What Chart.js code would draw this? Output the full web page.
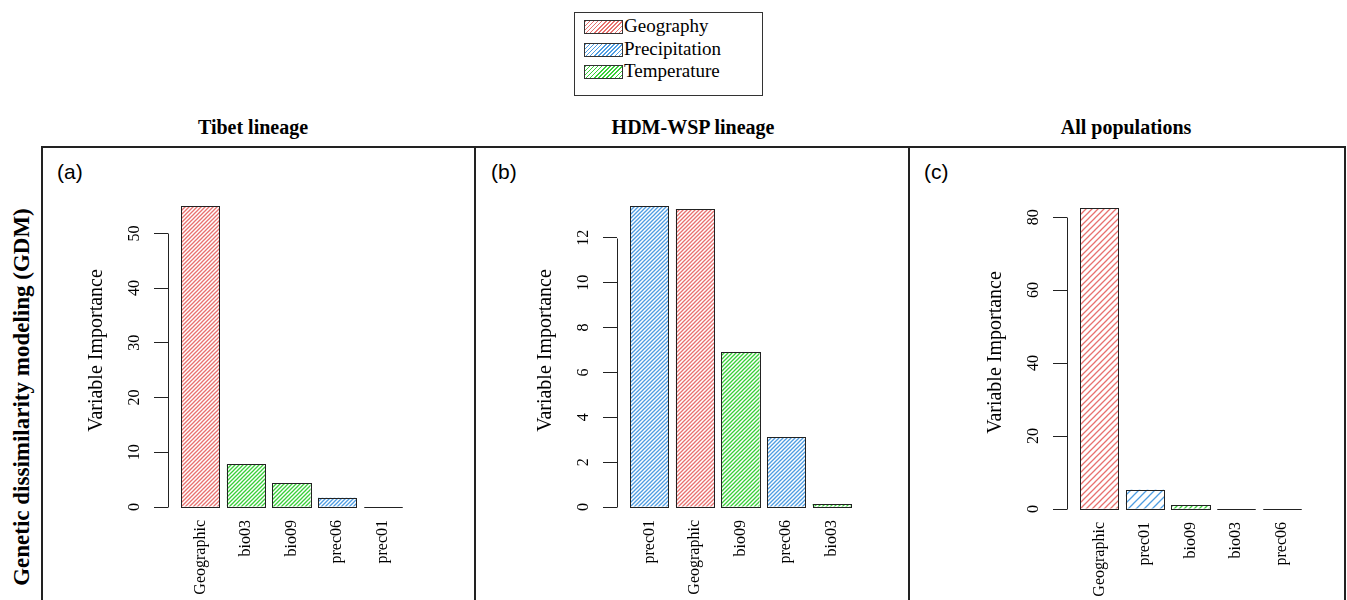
<!DOCTYPE html>
<html>
<head>
<meta charset="utf-8">
<script src="https://cdn.jsdelivr.net/npm/chart.js@4.4.1/dist/chart.umd.min.js"></script>
<style>
  html, body { margin: 0; padding: 0; background: #fff; }
  body { width: 1347px; height: 600px; position: relative; overflow: hidden; font-family: "Liberation Serif", serif; color: #000; }
  .abs { position: absolute; }
  canvas { position: absolute; }
  .title { position: absolute; font-weight: bold; font-size: 20px; transform: translate(-50%, -50%); white-space: nowrap; }
  .tag { position: absolute; font-family: "Liberation Sans", Arial, sans-serif; font-size: 21px; }
  .legend { position: absolute; left: 574px; top: 12px; width: 187px; height: 82px; border: 1px solid #333; }
  .lrow { position: absolute; left: 9px; height: 20px; font-size: 19px; line-height: 20px; white-space: nowrap; }
  .sw { position: absolute; left: 0; top: 3px; width: 37px; height: 12px; border: 1px solid #333; }
  .ltext { position: absolute; left: 40px; top: -1px; }
</style>
</head>
<body>
<div id="root"></div>
<script>
// ---------- data ----------
const groupNames = ['Geography', 'Precipitation', 'Temperature'];
const panelTitles = ['Tibet lineage', 'HDM-WSP lineage', 'All populations'];
const panelTags = ['(a)', '(b)', '(c)'];
const sideLabel = 'Genetic dissimilarity modeling (GDM)';
const yTitle = 'Variable Importance';

const tibetCats = ['Geographic', 'bio03', 'bio09', 'prec06', 'prec01'];
const tibetVals = [55.0, 7.8, 4.3, 1.7, 0];
const tibetGroups = ['Geography', 'Temperature', 'Temperature', 'Precipitation', 'Precipitation'];

const hdmCats = ['prec01', 'Geographic', 'bio09', 'prec06', 'bio03'];
const hdmVals = [13.41, 13.28, 6.91, 3.11, 0.13];
const hdmGroups = ['Precipitation', 'Geography', 'Temperature', 'Precipitation', 'Temperature'];

const allCats = ['Geographic', 'prec01', 'bio09', 'bio03', 'prec06'];
const allVals = [82.5, 5.3, 1.0, 0, 0];
const allGroups = ['Geography', 'Precipitation', 'Temperature', 'Temperature', 'Precipitation'];

// ---------- styles ----------
const groupColors = { Geography: '#E8716F', Precipitation: '#4E9DE2', Temperature: '#39CF39' };
const FONT = 'Liberation Serif';
const root = document.getElementById('root');

function el(cls, css, text) {
  const d = document.createElement('div');
  d.className = cls;
  Object.assign(d.style, css);
  if (text !== undefined) d.textContent = text;
  root.appendChild(d);
  return d;
}

// frames
el('abs', { left: '41px', top: '146px', width: '1301px', height: '470px', border: '2px solid #222' });
el('abs', { left: '474px', top: '147px', width: '2px', height: '460px', background: '#222' });
el('abs', { left: '908px', top: '147px', width: '2px', height: '460px', background: '#222' });

// legend
const leg = el('legend', {});
groupNames.forEach((g, i) => {
  const row = document.createElement('div');
  row.className = 'lrow';
  row.style.top = (4 + i * 22.5) + 'px';
  const sw = document.createElement('div');
  sw.className = 'sw';
  sw.style.background = `repeating-linear-gradient(135deg, ${groupColors[g]} 0px, ${groupColors[g]} 1.1px, #fff 1.1px, #fff 2.9px)`;
  const t = document.createElement('div');
  t.className = 'ltext';
  t.textContent = g;
  row.appendChild(sw); row.appendChild(t);
  leg.appendChild(row);
});

// titles, tags, side label
[253, 693, 1126].forEach((x, i) => el('title', { left: x + 'px', top: '127px' }, panelTitles[i]));
[[57, 160], [491, 160], [924, 160]].forEach((p, i) => el('tag', { left: p[0] + 'px', top: p[1] + 'px' }, panelTags[i]));
el('title', { left: '22px', top: '397px', fontSize: '23px', transform: 'translate(-50%,-50%) rotate(-90deg)' }, sideLabel);

function hatch(color, s) {
  const c = document.createElement('canvas');
  c.width = s; c.height = s;
  const x = c.getContext('2d');
  x.fillStyle = '#fff'; x.fillRect(0, 0, s, s);
  x.strokeStyle = color; x.lineWidth = 1.3;
  x.beginPath();
  x.moveTo(-1, s + 1); x.lineTo(s + 1, -1);
  x.moveTo(-1, 1); x.lineTo(1, -1);
  x.moveTo(s - 1, s + 1); x.lineTo(s + 1, s - 1);
  x.stroke();
  return x.createPattern(c, 'repeat');
}

const outlinePlugin = {
  id: 'outline',
  afterDatasetsDraw(chart) {
    const ctx = chart.ctx;
    const meta = chart.getDatasetMeta(0);
    ctx.save();
    ctx.strokeStyle = '#222'; ctx.lineWidth = 1;
    meta.data.forEach(b => {
      const p = b.getProps(['x', 'y', 'base', 'width'], true);
      const l = Math.round(p.x - p.width / 2) + 0.5, r = Math.round(p.x + p.width / 2) + 0.5;
      const t = Math.round(p.y) + 0.5, bt = Math.round(p.base) + 0.5;
      ctx.strokeRect(l, t, r - l, bt - t);
    });
    ctx.restore();
  }
};
const yLinePlugin = {
  id: 'yline',
  afterDraw(chart) {
    const s = chart.scales.y, ctx = chart.ctx;
    const x = Math.round(s.right) + 0.5;
    ctx.save();
    ctx.strokeStyle = '#222'; ctx.lineWidth = 1;
    ctx.beginPath();
    ctx.moveTo(x, Math.round(s.getPixelForValue(s.ticks[0].value)) + 0.5);
    ctx.lineTo(x, Math.round(s.getPixelForValue(s.ticks[s.ticks.length - 1].value)) + 0.5);
    ctx.stroke();
    ctx.restore();
  }
};

const YW = 110, XH = 90, PADTOP = 20;
function makePanel(cfg) {
  const cv = document.createElement('canvas');
  const W = YW + cfg.areaW + 10;
  const H = PADTOP + cfg.areaH + XH;
  cv.width = W; cv.height = H;
  cv.style.left = (cfg.axisX - YW) + 'px';
  cv.style.top = (cfg.areaTop - PADTOP) + 'px';
  root.appendChild(cv);
  new Chart(cv, {
    type: 'bar',
    data: {
      datasets: [{
        data: cfg.vals.map((v, i) => ({ x: i, y: v })),
        backgroundColor: cfg.groups.map((g, i) => hatch(groupColors[g], cfg.hatch[i])),
        borderWidth: 0,
        categoryPercentage: 1,
        barPercentage: 0.838
      }]
    },
    options: {
      responsive: false, animation: false,
      layout: { padding: { top: PADTOP, right: 10, left: 0, bottom: 0 } },
      plugins: { legend: { display: false }, tooltip: { enabled: false } },
      scales: {
        x: {
          type: 'linear', min: -0.71, max: 4.6, offset: false,
          grid: { display: false, drawTicks: false, offset: false }, border: { display: false },
          afterBuildTicks: s => { s.ticks = cfg.cats.map((c, i) => ({ value: i })); },
          afterFit: s => { s.height = XH; s.paddingLeft = 0; s.paddingRight = 0; },
          ticks: {
            autoSkip: false, minRotation: 90, maxRotation: 90, padding: 13, color: '#000',
            font: { family: FONT, size: 16 },
            callback: v => cfg.cats[v]
          }
        },
        y: {
          min: 0, max: cfg.yMax,
          grid: { drawOnChartArea: false, drawTicks: true, tickLength: 14, color: '#222', lineWidth: 1 },
          border: { display: false },
          afterFit: s => { s.width = YW; s.paddingTop = 0; s.paddingBottom = 0; },
          ticks: {
            stepSize: cfg.step, includeBounds: false, minRotation: 90, maxRotation: 90,
            crossAlign: 'center', padding: 11, color: '#000',
            font: { family: FONT, size: 16 }
          },
          title: {
            display: true, text: yTitle, color: '#000',
            font: { family: FONT, size: 20 }, padding: { top: 27, bottom: 0 }
          }
        }
      }
    },
    plugins: [outlinePlugin, yLinePlugin]
  });
}

makePanel({ cats: tibetCats, vals: tibetVals, groups: tibetGroups, yMax: 57.2, step: 10,
  axisX: 168, areaTop: 194, areaH: 313, areaW: 242, hatch: [4, 4, 4, 4, 4] });
makePanel({ cats: hdmCats, vals: hdmVals, groups: hdmGroups, yMax: 13.95, step: 2,
  axisX: 617, areaTop: 194, areaH: 313, areaW: 242, hatch: [4, 4, 4, 4, 4] });
makePanel({ cats: allCats, vals: allVals, groups: allGroups, yMax: 85.8, step: 20,
  axisX: 1067, areaTop: 196, areaH: 313, areaW: 242, hatch: [6, 8, 5, 5, 5] });
</script>
</body>
</html>
